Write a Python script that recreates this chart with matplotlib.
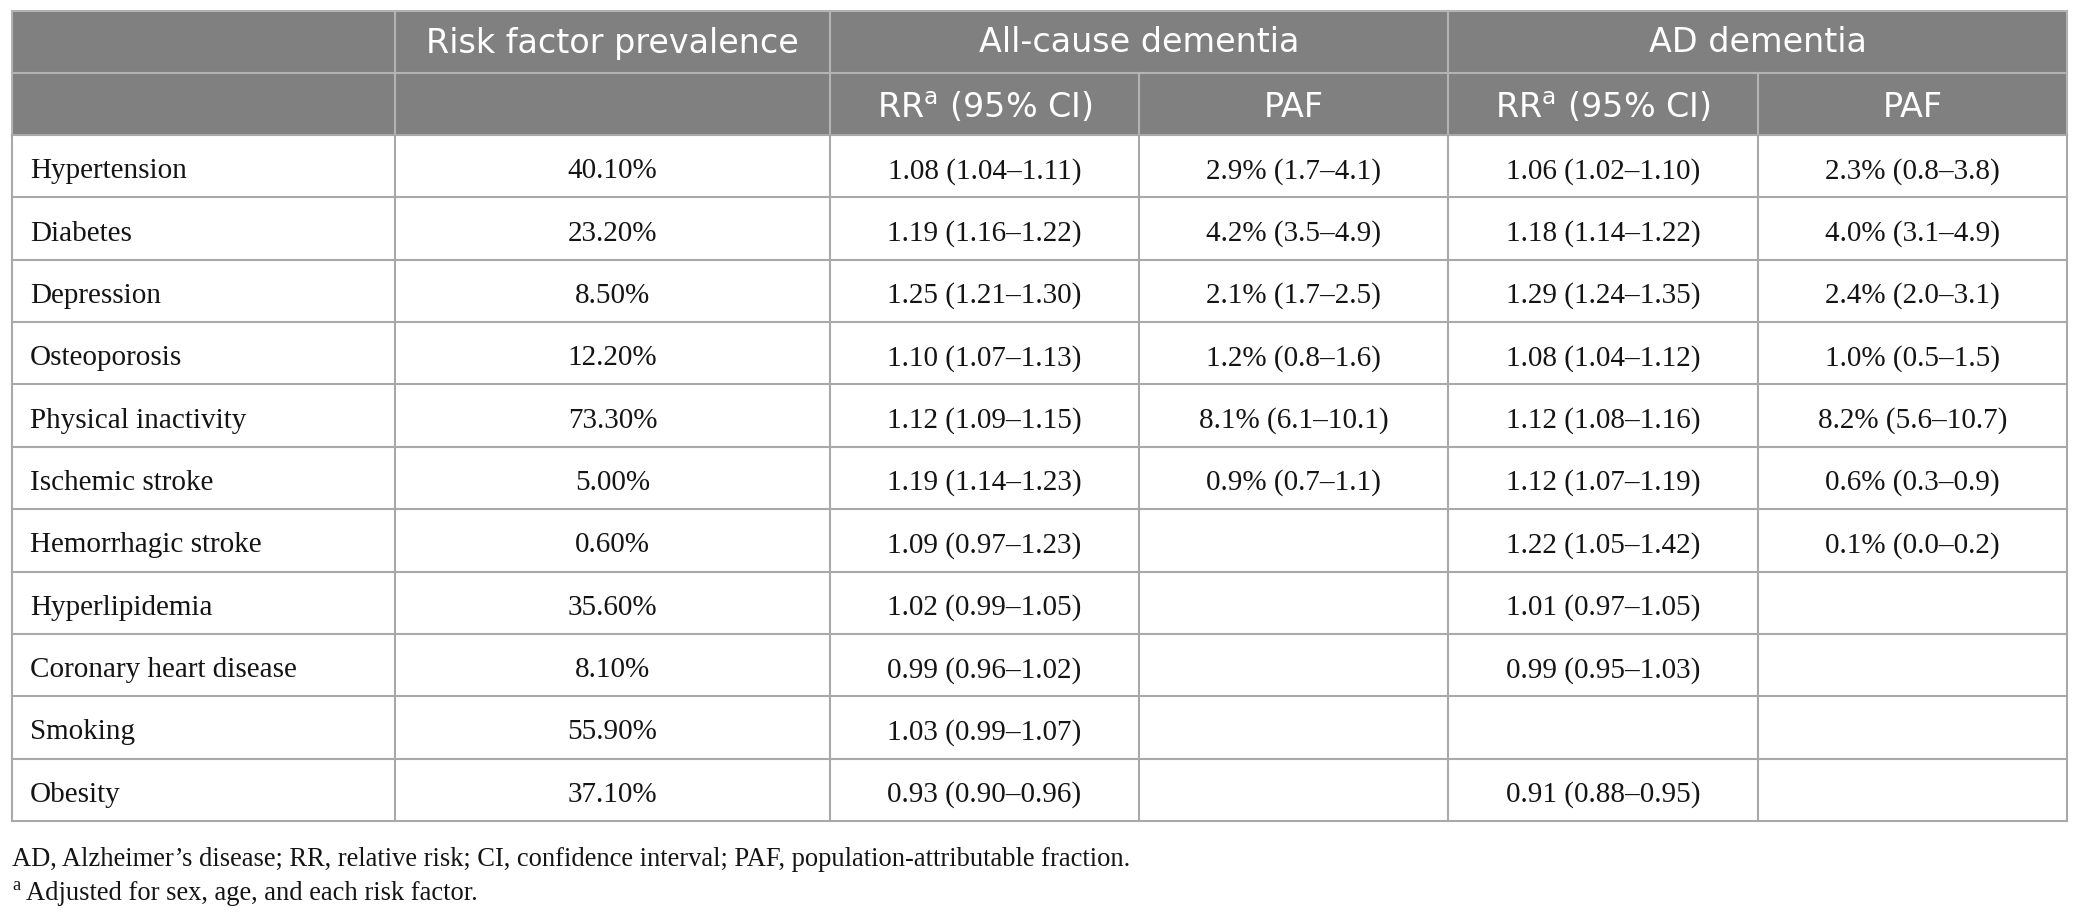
import matplotlib
matplotlib.use("Agg")
import matplotlib.pyplot as plt
from matplotlib.patches import Rectangle

# ---------------- data ----------------
risk_factors = ["Hypertension", "Diabetes", "Depression", "Osteoporosis",
                "Physical inactivity", "Ischemic stroke", "Hemorrhagic stroke",
                "Hyperlipidemia", "Coronary heart disease", "Smoking", "Obesity"]
prevalence = ["40.10%", "23.20%", "8.50%", "12.20%", "73.30%", "5.00%",
              "0.60%", "35.60%", "8.10%", "55.90%", "37.10%"]
allcause_rr = ["1.08 (1.04\u20131.11)", "1.19 (1.16\u20131.22)", "1.25 (1.21\u20131.30)",
               "1.10 (1.07\u20131.13)", "1.12 (1.09\u20131.15)", "1.19 (1.14\u20131.23)",
               "1.09 (0.97\u20131.23)", "1.02 (0.99\u20131.05)", "0.99 (0.96\u20131.02)",
               "1.03 (0.99\u20131.07)", "0.93 (0.90\u20130.96)"]
allcause_paf = ["2.9% (1.7\u20134.1)", "4.2% (3.5\u20134.9)", "2.1% (1.7\u20132.5)",
                "1.2% (0.8\u20131.6)", "8.1% (6.1\u201310.1)", "0.9% (0.7\u20131.1)",
                "", "", "", "", ""]
ad_rr = ["1.06 (1.02\u20131.10)", "1.18 (1.14\u20131.22)", "1.29 (1.24\u20131.35)",
         "1.08 (1.04\u20131.12)", "1.12 (1.08\u20131.16)", "1.12 (1.07\u20131.19)",
         "1.22 (1.05\u20131.42)", "1.01 (0.97\u20131.05)", "0.99 (0.95\u20131.03)",
         "", "0.91 (0.88\u20130.95)"]
ad_paf = ["2.3% (0.8\u20133.8)", "4.0% (3.1\u20134.9)", "2.4% (2.0\u20133.1)",
          "1.0% (0.5\u20131.5)", "8.2% (5.6\u201310.7)", "0.6% (0.3\u20130.9)",
          "0.1% (0.0\u20130.2)", "", "", "", ""]

group_headers = ["Risk factor prevalence", "All-cause dementia", "AD dementia"]
sub_headers = ["RR$^{\\mathrm{a}}$ (95% CI)", "PAF", "RR$^{\\mathrm{a}}$ (95% CI)", "PAF"]
footnote_1 = ("AD, Alzheimer\u2019s disease; RR, relative risk; CI, confidence interval; "
              "PAF, population-attributable fraction.")
footnote_2 = "Adjusted for sex, age, and each risk factor."

# ---------------- layout ----------------
W, H = 2079, 918
fig = plt.figure(figsize=(W / 100, H / 100), dpi=100)
ax = fig.add_axes([0, 0, 1, 1])
ax.set_xlim(0, W)
ax.set_ylim(H, 0)
ax.axis("off")

cols = [12, 395, 830, 1139, 1448, 1758, 2067]
top, mid, hdr_bot, bottom = 11, 73, 135, 821
n = len(risk_factors)
row_h = (bottom - hdr_bot) / n

HDR_BG = "#808080"
HDR_LINE = "#b3b3b3"
BODY_LINE = "#a9a9a9"
TXT = "#141414"
LW = 1.5

SANS = "DejaVu Sans"
SERIF = "Liberation Serif"
hdr_size = 24
body_size = 21
foot_size = 19.1

# header background
ax.add_patch(Rectangle((cols[0], top), cols[-1] - cols[0], hdr_bot - top,
                       facecolor=HDR_BG, edgecolor="none", zorder=1))

# header lines
ax.plot([cols[0], cols[-1]], [top, top], color=HDR_LINE, lw=LW, zorder=3)
ax.plot([cols[0], cols[-1]], [mid, mid], color=HDR_LINE, lw=LW, zorder=3)
for x in [cols[0], cols[1], cols[2], cols[4], cols[-1]]:
    ax.plot([x, x], [top, hdr_bot], color=HDR_LINE, lw=LW, zorder=3)
for x in [cols[3], cols[5]]:
    ax.plot([x, x], [mid, hdr_bot], color=HDR_LINE, lw=LW, zorder=3)

# body lines
for i in range(n + 1):
    y = hdr_bot + i * row_h
    ax.plot([cols[0], cols[-1]], [y, y], color=BODY_LINE, lw=LW, zorder=3)
for x in cols:
    ax.plot([x, x], [hdr_bot, bottom], color=BODY_LINE, lw=LW, zorder=3)

# header text
ymid1 = (top + mid) / 2 + 1
ymid2 = (mid + hdr_bot) / 2
ax.text((cols[1] + cols[2]) / 2, ymid1, group_headers[0], ha="center", va="center",
        color="white", fontsize=hdr_size, family=SANS, zorder=4)
ax.text((cols[2] + cols[4]) / 2, ymid1, group_headers[1], ha="center", va="center",
        color="white", fontsize=hdr_size, family=SANS, zorder=4)
ax.text((cols[4] + cols[6]) / 2, ymid1, group_headers[2], ha="center", va="center",
        color="white", fontsize=hdr_size, family=SANS, zorder=4)
for j, label in enumerate(sub_headers):
    cx = (cols[2 + j] + cols[3 + j]) / 2
    ax.text(cx, ymid2, label, ha="center", va="center_baseline", color="white",
            fontsize=hdr_size, family=SANS, zorder=4)

# body text
columns = [prevalence, allcause_rr, allcause_paf, ad_rr, ad_paf]
for i in range(n):
    yc = hdr_bot + (i + 0.5) * row_h + 5
    ax.text(cols[0] + 18, yc, risk_factors[i], ha="left", va="center",
            fontsize=body_size, family=SERIF, color=TXT, zorder=4)
    for j, colvals in enumerate(columns):
        cx = (cols[1 + j] + cols[2 + j]) / 2
        if colvals[i]:
            ax.text(cx, yc, colvals[i], ha="center", va="center",
                    fontsize=body_size, family=SERIF, color=TXT, zorder=4)

# footnotes
ax.text(cols[0], 859, footnote_1, ha="left", va="center", fontsize=foot_size,
        family=SERIF, color=TXT)
ax.text(cols[0], 885, "a", ha="left", va="center", fontsize=foot_size * 0.7,
        family=SERIF, color=TXT)
ax.text(cols[0] + 14, 893, footnote_2, ha="left", va="center", fontsize=foot_size,
        family=SERIF, color=TXT)

fig.savefig("out.png", dpi=100, facecolor="white")
